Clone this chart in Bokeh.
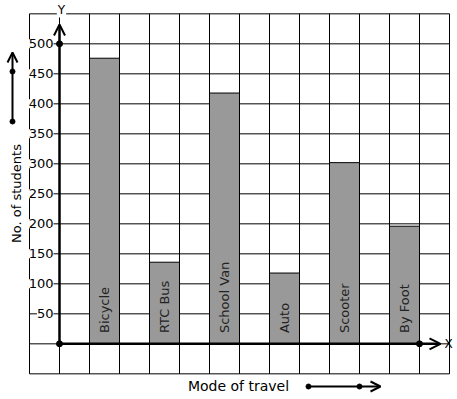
from bokeh.plotting import figure
from bokeh.models import Arrow, OpenHead, ColumnDataSource
from bokeh.core.properties import value
from bokeh.embed import file_html
from bokeh.resources import INLINE
import numpy as np

# ---- data ----
modes = ["Bicycle", "RTC Bus", "School Van", "Auto", "Scooter", "By Foot"]
students = [476, 136, 418, 118, 302, 196]
bar_left = [1, 3, 5, 7, 9, 11]
y_ticks = [50, 100, 150, 200, 250, 300, 350, 400, 450, 500]
y_tick_labels = ["50", "100", "150", "200", "250", "300", "350", "400", "450", "500"]
x_grid = list(range(-1, 14))
y_grid = list(range(-50, 551, 50))

W, H = 457, 399
# pixel mapping: px = 29 + (x+1)*30 ; py = 343.333 - v*0.6
def xv(px):
    return (px - 29) / 30.0 - 1

def yv(py):
    return (343.333 - py) / 0.6

FONT = "DejaVu Sans"

p = figure(width=W, height=H, output_backend="svg", toolbar_location=None,
           x_range=(xv(0), xv(W)), y_range=(yv(H), yv(0)),
           min_border=0, x_axis_location=None, y_axis_location=None)
p.outline_line_color = None
p.xgrid.visible = False
p.ygrid.visible = False
p.background_fill_color = "white"
p.border_fill_color = "white"

# grid
p.segment(x0=x_grid, x1=x_grid, y0=[y_grid[0]] * len(x_grid), y1=[y_grid[-1]] * len(x_grid),
          line_color="black", line_width=1)
p.segment(x0=[x_grid[0]] * len(y_grid), x1=[x_grid[-1]] * len(y_grid), y0=y_grid, y1=y_grid,
          line_color="black", line_width=1)

# bars
src = ColumnDataSource(dict(left=bar_left, right=[b + 1 for b in bar_left], top=students,
                            bottom=[0] * len(modes), mode=modes,
                            xc=[b + 0.5 for b in bar_left], ty=[18] * len(modes)))
p.quad(left="left", right="right", top="top", bottom="bottom", source=src,
       fill_color="#999999", line_color="black", line_width=1)
p.text(x="xc", y="ty", text="mode", source=src, angle=np.pi / 2,
       text_align="left", text_baseline="middle", text_font=value(FONT),
       text_font_size="13px", text_color="#222222")

# y tick labels
p.text(x=[xv(53)] * len(y_ticks), y=y_ticks, text=y_tick_labels,
       text_align="right", text_baseline="middle", text_font=value(FONT),
       text_font_size="13px", text_color="black",
       background_fill_color="white", padding=0)

# axes with arrows
p.add_layout(Arrow(end=OpenHead(size=11, line_width=2, line_color="black"),
                   x_start=0, y_start=0, x_end=0, y_end=yv(24),
                   line_width=2.5, line_color="black"))
p.add_layout(Arrow(end=OpenHead(size=11, line_width=2, line_color="black"),
                   x_start=0, y_start=0, x_end=xv(440), y_end=0,
                   line_width=2.5, line_color="black"))
p.scatter(x=[0, 0, 12], y=[0, 500, 0], size=6, color="black")

p.text(x=[xv(61)], y=[yv(9)], text=["Y"], text_align="center", text_baseline="middle",
       text_font=value(FONT), text_font_size="12px", text_color="black",
       background_fill_color="white", padding=1)
p.text(x=[xv(448)], y=[0], text=["X"], text_align="center", text_baseline="middle",
       text_font=value(FONT), text_font_size="12px", text_color="black")

# axis titles
p.text(x=[xv(238)], y=[yv(385)], text=["Mode of travel"], text_align="center",
       text_baseline="middle", text_font=value(FONT), text_font_size="14px",
       text_color="black")
p.text(x=[xv(16)], y=[yv(193)], text=["No. of students"], angle=np.pi / 2,
       text_align="center", text_baseline="middle", text_font=value(FONT),
       text_font_size="13px", text_color="black")

# decorative direction arrows
p.add_layout(Arrow(end=OpenHead(size=10, line_width=2, line_color="black"),
                   x_start=xv(308), y_start=yv(386), x_end=xv(380), y_end=yv(386),
                   line_width=2, line_color="black"))
p.scatter(x=[xv(308), xv(359)], y=[yv(386), yv(386)], size=5, color="black")
p.add_layout(Arrow(end=OpenHead(size=10, line_width=2, line_color="black"),
                   x_start=xv(12), y_start=yv(121), x_end=xv(12), y_end=yv(52),
                   line_width=2, line_color="black"))
p.scatter(x=[xv(12), xv(12)], y=[yv(121), yv(71)], size=5, color="black")

open("out.html", "w").write(file_html(p, INLINE))
